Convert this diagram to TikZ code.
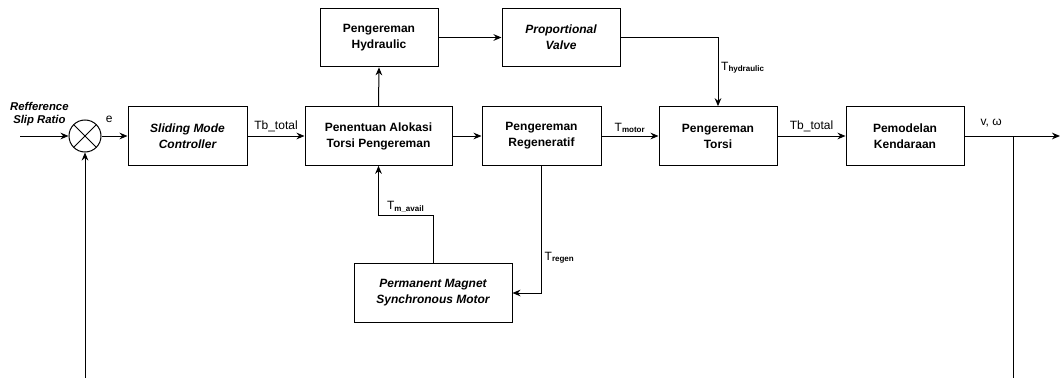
\documentclass[tikz,border=0pt]{standalone}
\usepackage{fontspec}
\setmainfont{Liberation Sans}
\usetikzlibrary{arrows.meta}

\begin{document}
\begin{tikzpicture}[x=0.75pt,y=-0.75pt,font=\fontsize{9}{12}\selectfont,
  block/.style={draw,line width=0.75pt,minimum width=0.75pt*#1,minimum height=44pt,align=center,inner sep=2pt,font=\fontsize{9}{12}\selectfont\bfseries},
  block/.default=118,
  sumnode/.style={draw,circle,line width=0.75pt,minimum size=24pt,inner sep=0pt,
    path picture={\draw[line width=0.75pt] (path picture bounding box.north west) -- (path picture bounding box.south east)
      (path picture bounding box.north east) -- (path picture bounding box.south west);}},
  link/.style={draw,line width=0.75pt,-{Stealth[length=6pt,width=5pt]}},
  wire/.style={draw,line width=0.75pt},
  sig/.style={font=\fontsize{9}{10}\selectfont,inner sep=2pt}]

\useasboundingbox (0,0) rectangle (1060,378);

% blocks
\node[sumnode] (sum) at (85,136) {};
\node[block=119] (smc) at (187.5,136) {\itshape Sliding Mode\\\itshape Controller};
\node[block=147] (alloc) at (378.5,136) {Penentuan Alokasi\\Torsi Pengereman};
\node[block] (hyd) at (379,37.5) {Pengereman\\Hydraulic};
\node[block] (valve) at (561,37.5) {\itshape Proportional\\\itshape Valve};
\node[block=119] (regen) at (541.5,136) {Pengereman\\Regeneratif};
\node[block] (torsi) at (718,136) {Pengereman\\Torsi};
\node[block] (model) at (905,136) {Pemodelan\\Kendaraan};
\node[block=158] (pmsm) at (433,293) {\itshape Permanent Magnet\\\itshape Synchronous Motor};

% free ends
\coordinate (ref) at (20,136);
\coordinate (split) at (1013,136);
\coordinate (out) at (1060,136);
\coordinate (fbR) at (1013,378);
\coordinate (fbL) at (85,378);

% connections
\path[link] (ref) -- node[sig,above=5pt,pos=0.4,align=center,font=\fontsize{8.5}{10}\selectfont\bfseries\itshape]{Refference\\Slip Ratio} (sum.west);
\path[link] (sum.east) -- node[sig,above=8pt,pos=0.3]{e} (smc.west);
\path[link] (smc.east) -- node[sig,above=1pt]{Tb\_total} (alloc.west);
\path[link] (alloc.north) -- (hyd.south);
\path[link] (hyd.east) -- (valve.west);
\path[link] (valve.east) -| node[sig,right,pos=0.72]{T\textsubscript{\bfseries hydraulic}} (torsi.north);
\path[link] (alloc.east) -- (regen.west);
\path[link] (regen.east) -- node[sig,above]{T\textsubscript{\bfseries motor}} (torsi.west);
\path[link] (torsi.east) -- node[sig,above=1pt]{Tb\_total} (model.west);
\path[wire] (model.east) -- node[sig,above=4pt,pos=0.55]{v, ω} (split);
\path[link] (split) -- (out);
\path[wire] (split) -- (fbR);
\path[link] (fbL) -- (sum.south);
\path[link] (pmsm.north) -- ++(0,-48) -| node[sig,above,pos=0.25]{T\textsubscript{\bfseries m\_avail}} (alloc.south);
\path[link] (regen.south) |- node[sig,right,pos=0.36]{T\textsubscript{\bfseries regen}} (pmsm.east);

\end{tikzpicture}
\end{document}
